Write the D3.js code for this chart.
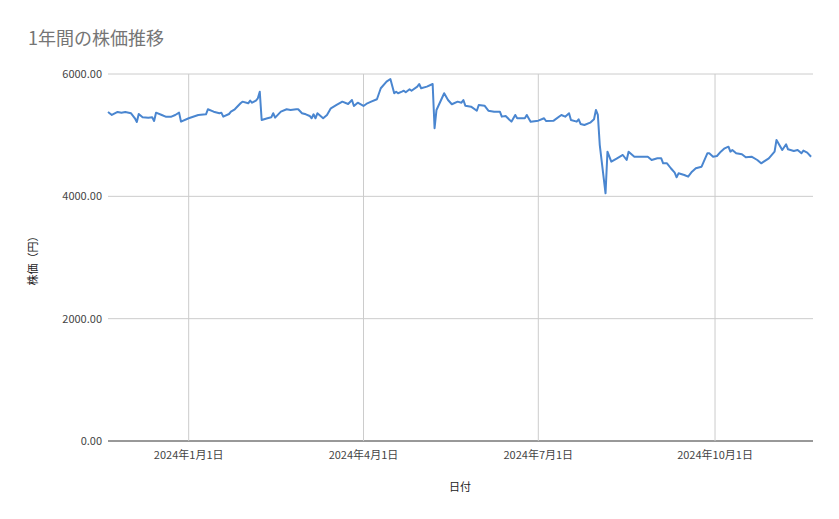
<!DOCTYPE html>
<html><head><meta charset="utf-8">
<script src="https://cdn.jsdelivr.net/npm/d3@7"></script>
<style>body{margin:0;background:#fff;font-family:"Noto Sans CJK JP","Noto Sans",sans-serif}</style>
</head><body><svg id="c" width="839" height="519"></svg>
<script>
const dates = ["2023-11-20","2023-11-22","2023-11-25","2023-11-27","2023-11-29","2023-12-02","2023-12-04","2023-12-05","2023-12-06","2023-12-08","2023-12-11","2023-12-13","2023-12-14","2023-12-15","2023-12-18","2023-12-20","2023-12-23","2023-12-25","2023-12-27","2023-12-28",
"2024-01-01","2024-01-06","2024-01-10","2024-01-11","2024-01-14","2024-01-17","2024-01-18","2024-01-19","2024-01-22","2024-01-23","2024-01-25","2024-01-28","2024-01-29","2024-02-01","2024-02-02","2024-02-03","2024-02-05","2024-02-06","2024-02-07","2024-02-08",
"2024-02-11","2024-02-13","2024-02-14","2024-02-15","2024-02-18","2024-02-21","2024-02-23","2024-02-26","2024-02-27","2024-02-29","2024-03-02","2024-03-04","2024-03-05","2024-03-06","2024-03-07","2024-03-08","2024-03-11","2024-03-13","2024-03-15","2024-03-18",
"2024-03-21","2024-03-24","2024-03-26","2024-03-27","2024-03-29","2024-04-01","2024-04-03","2024-04-05","2024-04-08","2024-04-10","2024-04-13","2024-04-15","2024-04-17","2024-04-18","2024-04-19","2024-04-21","2024-04-22","2024-04-23","2024-04-25","2024-04-26",
"2024-04-29","2024-04-30","2024-05-01","2024-05-04","2024-05-07","2024-05-08","2024-05-09","2024-05-13","2024-05-15","2024-05-17","2024-05-20","2024-05-22","2024-05-23","2024-05-24","2024-05-27","2024-05-30","2024-05-31","2024-06-03","2024-06-05","2024-06-08",
"2024-06-11","2024-06-12","2024-06-14","2024-06-17","2024-06-19","2024-06-20","2024-06-24","2024-06-25","2024-06-27","2024-07-01","2024-07-04","2024-07-05","2024-07-09","2024-07-13","2024-07-15","2024-07-17","2024-07-18","2024-07-21","2024-07-22","2024-07-23",
"2024-07-25","2024-07-28","2024-07-30","2024-07-31","2024-08-01","2024-08-02","2024-08-05","2024-08-06","2024-08-08","2024-08-11","2024-08-14","2024-08-16","2024-08-17","2024-08-20","2024-08-23","2024-08-24","2024-08-27","2024-08-29","2024-09-01","2024-09-03",
"2024-09-04","2024-09-06","2024-09-08","2024-09-10","2024-09-11","2024-09-12","2024-09-15","2024-09-17","2024-09-19","2024-09-21","2024-09-24","2024-09-27","2024-09-28","2024-09-30","2024-10-02","2024-10-04","2024-10-06","2024-10-08","2024-10-09","2024-10-10",
"2024-10-12","2024-10-15","2024-10-17","2024-10-20","2024-10-23","2024-10-25","2024-10-29","2024-11-01","2024-11-02","2024-11-05","2024-11-07","2024-11-08","2024-11-11","2024-11-13","2024-11-15","2024-11-16","2024-11-18","2024-11-20"];
const prices = [5379,5330,5379,5368,5379,5358,5276,5216,5346,5292,5286,5292,5232,5368,5330,5303,5303,5330,5368,5221,
5276,5330,5341,5423,5384,5358,5368,5303,5346,5384,5423,5521,5548,5521,5564,5531,5564,5603,5711,5248,
5276,5292,5358,5286,5384,5423,5412,5423,5423,5358,5341,5314,5276,5341,5276,5358,5276,5330,5439,5494,
5548,5510,5575,5477,5531,5477,5521,5548,5587,5767,5875,5919,5685,5711,5685,5711,5727,5701,5750,5727,
5793,5837,5767,5793,5837,5113,5412,5685,5575,5505,5548,5531,5575,5482,5466,5400,5494,5482,5400,5384,
5384,5303,5314,5221,5330,5276,5276,5330,5221,5237,5276,5232,5237,5330,5303,5358,5248,5221,5260,5183,
5166,5204,5260,5412,5330,4839,4050,4730,4567,4622,4676,4594,4730,4648,4648,4648,4648,4594,4622,4622,
4540,4540,4459,4387,4311,4376,4349,4322,4403,4459,4485,4704,4704,4648,4660,4730,4785,4812,4730,4758,
4704,4687,4638,4648,4594,4540,4622,4730,4921,4758,4851,4769,4741,4758,4704,4747,4714,4648];
const yTicks = [0,2000,4000,6000];
const xTickDates = ["2024-01-01","2024-04-01","2024-07-01","2024-10-01"];
const xTickLabels = ["2024年1月1日","2024年4月1日","2024年7月1日","2024年10月1日"];

const svg = d3.select("#c");
const p = d3.timeParse("%Y-%m-%d");
const data = dates.map((d,i)=>({d:p(d),v:prices[i]}));
const x = d3.scaleTime().domain([p("2023-11-20"),p("2024-11-21")]).range([108,813]);
const y = d3.scaleLinear().domain([0,6000]).range([441,74]);
const font = '"Noto Sans CJK JP","Noto Sans",sans-serif';

svg.append("g").selectAll("line").data(yTicks).join("line")
 .attr("x1",108).attr("x2",813).attr("y1",d=>y(d)).attr("y2",d=>y(d))
 .attr("stroke",d=>d===0?"#333":"#cccccc").attr("stroke-width",1);
svg.append("g").selectAll("line").data(xTickDates).join("line")
 .attr("x1",d=>x(p(d))).attr("x2",d=>x(p(d))).attr("y1",74).attr("y2",441)
 .attr("stroke","#cccccc");
svg.append("g").selectAll("text").data(yTicks).join("text")
 .attr("x",102).attr("y",d=>y(d)+4).attr("text-anchor","end")
 .attr("font-size",11).attr("fill","#444").attr("font-family",font)
 .text(d=>d3.format(".2f")(d));
svg.append("g").selectAll("text").data(xTickDates).join("text")
 .attr("x",d=>x(p(d))).attr("y",459).attr("text-anchor","middle")
 .attr("font-size",11).attr("fill","#444").attr("font-family",font)
 .text((d,i)=>xTickLabels[i]);
svg.append("path").datum(data)
 .attr("d",d3.line().x(d=>x(d.d)).y(d=>y(d.v)))
 .attr("fill","none").attr("stroke","#4a86d0").attr("stroke-width",2).attr("stroke-linejoin","round");
svg.append("text").attr("x",28).attr("y",45).attr("font-size",18).attr("fill","#757575").attr("font-family",font).text("1年間の株価推移");
svg.append("text").attr("x",460).attr("y",491).attr("text-anchor","middle").attr("font-size",11).attr("fill","#222").attr("font-family",font).text("日付");
svg.append("text").attr("transform","translate(37,258) rotate(-90)").attr("text-anchor","middle").attr("font-size",11).attr("fill","#222").attr("font-family",font).text("株価（円）");
</script></body></html>
